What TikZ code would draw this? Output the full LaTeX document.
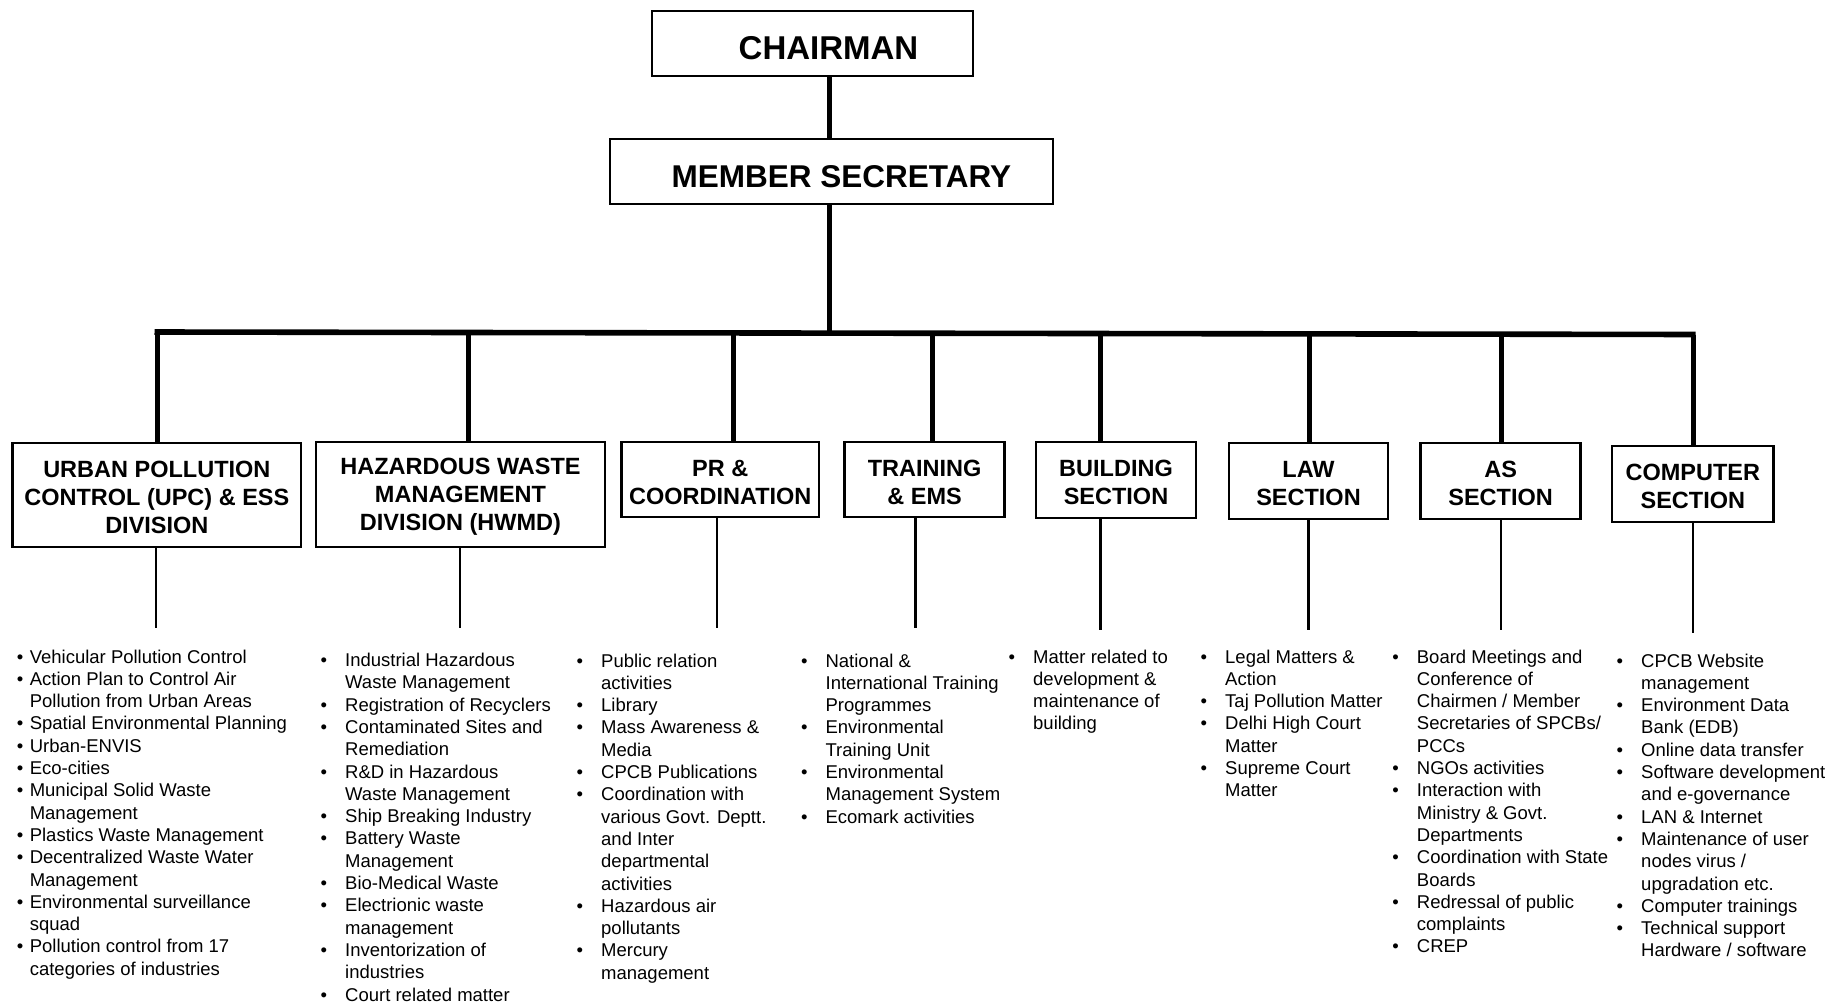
\documentclass[tikz,border=0pt]{standalone}
\usepackage{fontspec}
\setmainfont{Liberation Sans}
\newcommand\blt[1][18pt]{\leavevmode\llap{\textbullet\hspace{#1}}}
\newcommand\tstrut{\rule{0pt}{22pt}}
\begin{document}
\begin{tikzpicture}[x=1pt,y=-1pt,
  box/.style={draw, line width=2.5pt, inner sep=0pt, align=center,
    font=\bfseries\fontsize{23.5}{28}\selectfont},
  topbox/.style={draw, line width=2.5pt, inner sep=0pt, text depth=0pt},
  lst/.style={anchor=base west, inner sep=0pt, font=\fontsize{18.5}{22.3}\selectfont},
  thk/.style={line width=5pt},
  bus/.style={line width=5.6pt},
  thn/.style={line width=2.5pt}]
\useasboundingbox (0,0) rectangle (1831,1003);

% top boxes
\node[topbox, minimum width=321, minimum height=65, text height=31.6pt,
  font=\bfseries\fontsize{33}{38}\selectfont] (ch) at (812.5,43.5) {\hspace*{32pt}CHAIRMAN};
\node[topbox, minimum width=443, minimum height=65, text height=31.4pt,
  font=\bfseries\fontsize{31.5}{36}\selectfont] (ms) at (831.5,171.5) {\hspace*{20pt}MEMBER SECRETARY};

% section boxes
\node[box, minimum width=288.3, minimum height=104] (upc) at (156.85,495) {\tstrut URBAN POLLUTION\\CONTROL (UPC) \& ESS\\DIVISION};
\node[box, minimum width=289, minimum height=104.7] (hw) at (460.5,494.4) {\tstrut HAZARDOUS WASTE\\MANAGEMENT\\DIVISION (HWMD)};
\node[box, minimum width=197.5, minimum height=75] (pr) at (720.25,479.5) {\tstrut PR \&\\COORDINATION};
\node[box, minimum width=160.1, minimum height=75] (tr) at (924.65,479.5) {\tstrut TRAINING\\\& EMS};
\node[box, minimum width=160, minimum height=76] (bd) at (1116,480) {\tstrut BUILDING\\SECTION};
\node[box, minimum width=159, minimum height=76] (law) at (1308.5,481) {\tstrut LAW\\SECTION};
\node[box, minimum width=160, minimum height=76] (as) at (1500.6,481) {\tstrut AS\\SECTION};
\node[box, minimum width=161.7, minimum height=76] (cp) at (1692.85,484) {\tstrut COMPUTER\\SECTION};

% connectors
\coordinate (hub) at (829,332.8);
\coordinate (busL) at (154.5,332);
\coordinate (busR) at (1695.5,334.5);
\draw[thk] (ch.south -| hub) -- (ms.north -| hub);
\draw[thk] (ms.south -| hub) -- (hub);
\draw[bus] (busL) -- (busR);
\coordinate (t1) at (157,332);
\coordinate (t2) at (468,332.5);
\coordinate (t3) at (733.5,332.7);
\coordinate (t4) at (932,333);
\coordinate (t5) at (1100,333.3);
\coordinate (t6) at (1309,333.6);
\coordinate (t7) at (1501,334);
\coordinate (t8) at (1693,334.5);
\draw[thk] (t1) -- (t1 |- upc.north);
\draw[thk] (t2) -- (t2 |- hw.north);
\draw[thk] (t3) -- (t3 |- pr.north);
\draw[thk] (t4) -- (t4 |- tr.north);
\draw[thk] (t5) -- (t5 |- bd.north);
\draw[thk] (t6) -- (t6 |- law.north);
\draw[thk] (t7) -- (t7 |- as.north);
\draw[thk] (t8) -- (t8 |- cp.north);

\coordinate (b1) at (156.2,628.3);
\coordinate (b2) at (460,628.3);
\coordinate (b3) at (717,628.3);
\coordinate (b4) at (915.5,628.3);
\coordinate (b5) at (1100.5,630);
\coordinate (b6) at (1308.6,630);
\coordinate (b7) at (1501,630);
\coordinate (b8) at (1692.8,632.7);
\draw[thn] (upc.south -| b1) -- (b1);
\draw[thn] (hw.south -| b2) -- (b2);
\draw[thn] (pr.south -| b3) -- (b3);
\draw[thn] (tr.south -| b4) -- (b4);
\draw[thn] (bd.south -| b5) -- (b5);
\draw[thn] (law.south -| b6) -- (b6);
\draw[thn] (as.south -| b7) -- (b7);
\draw[thn] (cp.south -| b8) -- (b8);

% lists
\node[lst] (l1) at (29.6,663) {\begin{tabular}[t]{@{}l@{}}
\blt[6.4pt]Vehicular Pollution Control\\
\blt[6.4pt]Action Plan to Control Air\\
Pollution from Urban Areas\\
\blt[6.4pt]Spatial Environmental Planning\\
\blt[6.4pt]Urban-ENVIS\\
\blt[6.4pt]Eco-cities\\
\blt[6.4pt]Municipal Solid Waste\\
Management\\
\blt[6.4pt]Plastics Waste Management\\
\blt[6.4pt]Decentralized Waste Water\\
Management\\
\blt[6.4pt]Environmental surveillance\\
squad\\
\blt[6.4pt]Pollution control from 17\\
categories of industries
\end{tabular}};

\node[lst] (l2) at (345,666.5) {\begin{tabular}[t]{@{}l@{}}
\blt Industrial Hazardous\\
Waste Management\\
\blt Registration of Recyclers\\
\blt Contaminated Sites and\\
Remediation\\
\blt R\&D in Hazardous\\
Waste Management\\
\blt Ship Breaking Industry\\
\blt Battery Waste\\
Management\\
\blt Bio-Medical Waste\\
\blt Electrionic waste\\
management\\
\blt Inventorization of\\
industries\\
\blt Court related matter
\end{tabular}};

\node[lst] (l3) at (601,667) {\begin{tabular}[t]{@{}l@{}}
\blt Public relation\\
activities\\
\blt Library\\
\blt Mass Awareness \&\\
Media\\
\blt CPCB Publications\\
\blt Coordination with\\
various Govt. Deptt.\\
and Inter\\
departmental\\
activities\\
\blt Hazardous air\\
pollutants\\
\blt Mercury\\
management
\end{tabular}};

\node[lst] (l4) at (825.4,667) {\begin{tabular}[t]{@{}l@{}}
\blt National \&\\
International Training\\
Programmes\\
\blt Environmental\\
Training Unit\\
\blt Environmental\\
Management System\\
\blt Ecomark activities
\end{tabular}};

\node[lst] (l5) at (1033,663) {\begin{tabular}[t]{@{}l@{}}
\blt Matter related to\\
development \&\\
maintenance of\\
building
\end{tabular}};

\node[lst] (l6) at (1225,663) {\begin{tabular}[t]{@{}l@{}}
\blt Legal Matters \&\\
Action\\
\blt Taj Pollution Matter\\
\blt Delhi High Court\\
Matter\\
\blt Supreme Court\\
Matter
\end{tabular}};

\node[lst] (l7) at (1416.7,663) {\begin{tabular}[t]{@{}l@{}}
\blt Board Meetings and\\
Conference of\\
Chairmen / Member\\
Secretaries of SPCBs/\\
PCCs\\
\blt NGOs activities\\
\blt Interaction with\\
Ministry \& Govt.\\
Departments\\
\blt Coordination with State\\
Boards\\
\blt Redressal of public\\
complaints\\
\blt CREP
\end{tabular}};

\node[lst] (l8) at (1641,667) {\begin{tabular}[t]{@{}l@{}}
\blt CPCB Website\\
management\\
\blt Environment Data\\
Bank (EDB)\\
\blt Online data transfer\\
\blt Software development\\
and e-governance\\
\blt LAN \& Internet\\
\blt Maintenance of user\\
nodes virus /\\
upgradation etc.\\
\blt Computer trainings\\
\blt Technical support\\
Hardware / software
\end{tabular}};
\end{tikzpicture}
\end{document}
